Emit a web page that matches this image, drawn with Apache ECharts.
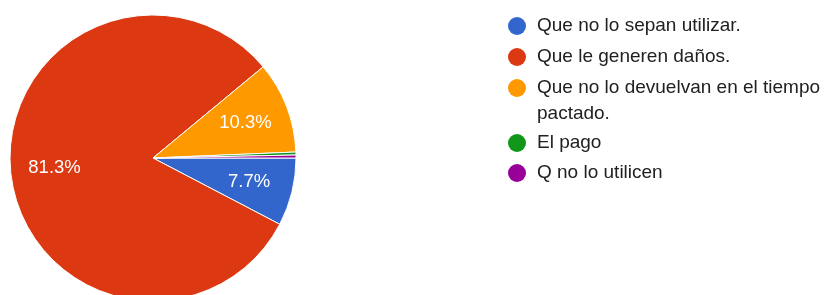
<!DOCTYPE html>
<html>
<head>
<meta charset="utf-8">
<script src="https://cdn.jsdelivr.net/npm/echarts@6/dist/echarts.min.js"></script>
<style>
  html, body { margin: 0; padding: 0; background: #fff; }
  #chart { width: 827px; height: 295px; }
</style>
</head>
<body>
<div id="chart"></div>
<script>
// respuestas (300 en total)
const categories = [
  'Que no lo sepan utilizar.',
  'Que le generen daños.',
  'Que no lo devuelvan en el tiempo pactado.',
  'El pago',
  'Q no lo utilicen'
];
const counts = [23, 244, 31, 1, 1];
const colors = ['#3366cc', '#dc3912', '#ff9900', '#109618', '#990099'];

const pieData = categories.map(function (name, i) {
  return { name: name, value: counts[i] };
});

const FONT = '"Liberation Sans", Arial, sans-serif';
const legendText = {
  color: '#212121',
  fontFamily: FONT,
  fontSize: 19,
  lineHeight: 26,
  padding: [0, 0, 0, 6]
};

function makeLegend(names, top, gap, extra) {
  return Object.assign({
    orient: 'vertical',
    left: 508,
    top: top,
    padding: 0,
    icon: 'circle',
    itemWidth: 18,
    itemHeight: 18,
    itemGap: gap,
    itemStyle: { borderWidth: 0 },
    selectedMode: false,
    data: names,
    textStyle: legendText
  }, extra || {});
}

let myChart = echarts.init(document.getElementById('chart'));

let option = {
  backgroundColor: '#fff',
  animation: false,
  color: colors,
  legend: [
    makeLegend(categories.slice(0, 2), 13, 5),
    // entrada larga en dos lineas: una linea vacia arriba deja el circulo
    // a la altura de la primera linea
    makeLegend([categories[2]], 49, 0, {
      formatter: function (name) { return '\n' + name; },
      textStyle: Object.assign({}, legendText, { width: 290, overflow: 'break' })
    }),
    makeLegend(categories.slice(3), 130, 4)
  ],
  series: [
    {
      name: 'respuestas',
      type: 'pie',
      center: [153, 158],
      radius: 143,
      startAngle: 0,
      clockwise: true,
      avoidLabelOverlap: false,
      silent: true,
      itemStyle: { borderColor: '#fff', borderWidth: 1 },
      label: { show: false },
      labelLine: { show: false },
      data: pieData
    },
    {
      // solo etiquetas, algo mas afuera que el centro del sector
      name: 'etiquetas',
      type: 'pie',
      center: [153, 158],
      radius: [49, 143],
      startAngle: 0,
      clockwise: true,
      silent: true,
      percentPrecision: 1,
      avoidLabelOverlap: false,
      itemStyle: { color: 'rgba(0,0,0,0)', borderWidth: 0 },
      label: {
        show: true,
        position: 'inside',
        color: '#fff',
        fontFamily: FONT,
        fontSize: 18.5,
        formatter: function (p) {
          return p.percent < 5 ? '' : p.percent.toFixed(1) + '%';
        }
      },
      labelLine: { show: false },
      data: pieData
    }
  ]
};

myChart.setOption(option);
</script>
</body>
</html>
